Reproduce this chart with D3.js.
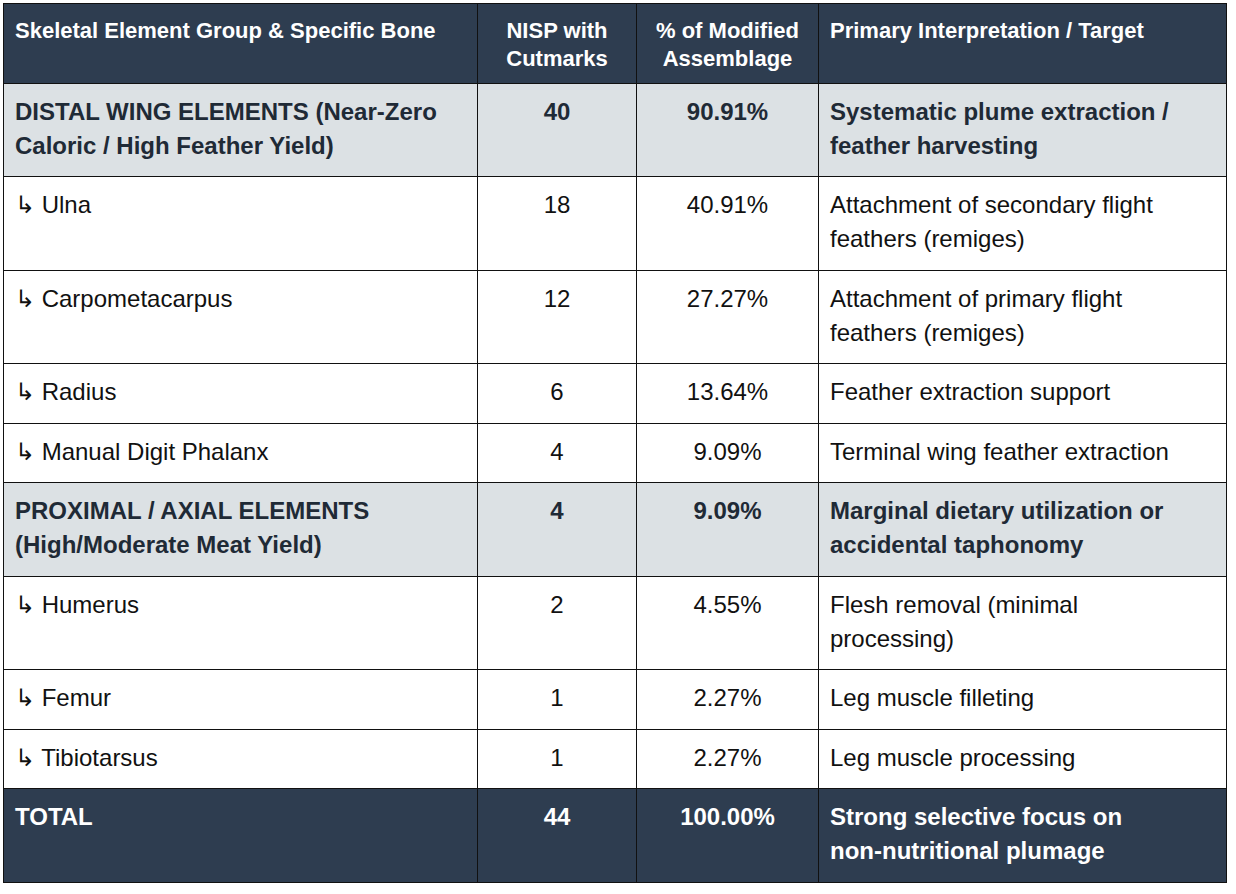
<!DOCTYPE html>
<html><head><meta charset="utf-8">
<script src="https://cdn.jsdelivr.net/npm/d3@7"></script>
<style>
body{margin:0;background:#fff;font-family:"Liberation Sans",Arial,sans-serif;}
table{position:absolute;left:3px;top:3px;border-collapse:collapse;table-layout:fixed;}
td,th{border:1.5px solid #111;padding:11px 8px 0 11px;vertical-align:top;font-size:24px;line-height:34px;color:#111;white-space:nowrap;box-sizing:border-box;}
th{background:#2e3d50;color:#fff;font-size:22px;line-height:28px;padding:13px 8px 0 11px;text-align:left;}
th.c,td.c{text-align:center;padding-left:4px;padding-right:4px;}
tr.group td{background:#dce1e4;color:#1f2a36;font-weight:bold;}
tr.total td{background:#2e3d50;color:#fff;font-weight:bold;}
</style></head><body>
<script>
const headerLines = [["Skeletal Element Group & Specific Bone"], ["NISP with", "Cutmarks"], ["% of Modified", "Assemblage"], ["Primary Interpretation / Target"]];
const elements = [["DISTAL WING ELEMENTS (Near-Zero", "Caloric / High Feather Yield)"], ["↳ Ulna"], ["↳ Carpometacarpus"], ["↳ Radius"], ["↳ Manual Digit Phalanx"], ["PROXIMAL / AXIAL ELEMENTS", "(High/Moderate Meat Yield)"], ["↳ Humerus"], ["↳ Femur"], ["↳ Tibiotarsus"], ["TOTAL"]];
const nisp = [40, 18, 12, 6, 4, 4, 2, 1, 1, 44];
const pct = ["90.91%", "40.91%", "27.27%", "13.64%", "9.09%", "9.09%", "4.55%", "2.27%", "2.27%", "100.00%"];
const interp = [["Systematic plume extraction /", "feather harvesting"], ["Attachment of secondary flight", "feathers (remiges)"], ["Attachment of primary flight", "feathers (remiges)"], ["Feather extraction support"], ["Terminal wing feather extraction"], ["Marginal dietary utilization or", "accidental taphonomy"], ["Flesh removal (minimal", "processing)"], ["Leg muscle filleting"], ["Leg muscle processing"], ["Strong selective focus on", "non-nutritional plumage"]];
const rowType = ["group", "sub", "sub", "sub", "sub", "group", "sub", "sub", "sub", "total"];
const colWidths = [474, 159, 182, 408];
const rowHeights = [93, 94, 93, 60, 59, 94, 93, 60, 59, 94];

const table = d3.select("body").append("table").style("width", d3.sum(colWidths) + "px");
table.append("colgroup").selectAll("col").data(colWidths).join("col").style("width", d => d + "px");
table.append("thead").append("tr").style("height", "80px").selectAll("th").data(headerLines).join("th")
  .attr("class", (d, i) => (i === 1 || i === 2) ? "c" : null)
  .html(d => d.join("<br>"));

const rows = elements.map((e, i) => ({type: rowType[i], h: rowHeights[i], cells: [e, [nisp[i]], [pct[i]], interp[i]]}));
table.append("tbody").selectAll("tr").data(rows).join("tr")
  .attr("class", d => d.type)
  .style("height", d => d.h + "px")
  .selectAll("td").data(d => d.cells).join("td")
  .attr("class", (d, i) => (i === 1 || i === 2) ? "c" : null)
  .html(d => d.join("<br>"));
</script>
</body></html>
